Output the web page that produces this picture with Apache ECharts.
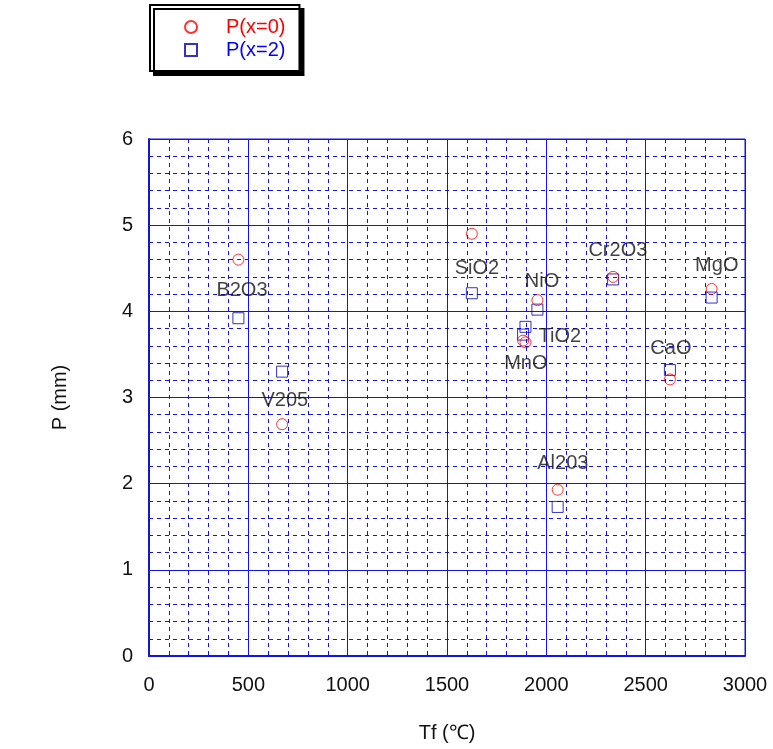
<!DOCTYPE html>
<html>
<head>
<meta charset="utf-8">
<script src="https://cdn.jsdelivr.net/npm/echarts@6/dist/echarts.min.js"></script>
<style>html,body{margin:0;padding:0;background:#fff;}#c{width:773px;height:749px;}</style>
</head>
<body>
<div id="c"></div>
<script>
// Data
var compounds = ['B2O3', 'V205', 'SiO2', 'NiO', 'TiO2', 'MnO', 'Cr2O3', 'MgO', 'CaO', 'Al203'];
var tf        = [450, 670, 1625, 1955, 1895, 1883, 2336, 2832, 2622, 2057];
var pX0       = [4.60, 2.69, 4.90, 4.13, 3.64, 3.66, 4.40, 4.26, 3.21, 1.93];
var pX2       = [3.92, 3.30, 4.21, 4.02, 3.82, 3.73, 4.37, 4.16, 3.32, 1.73];
// label anchor positions (data units)
var labelX    = [468, 684, 1651, 1978, 2068, 1897, 2360, 2858, 2627, 2083];
var labelY    = [4.24, 2.97, 4.50, 4.35, 3.71, 3.40, 4.71, 4.53, 3.57, 2.23];
var xTicks = [0, 500, 1000, 1500, 2000, 2500, 3000];
var yTicks = [0, 1, 2, 3, 4, 5, 6];
var seriesNames = ['P(x=0)', 'P(x=2)'];

var FONT = 'Liberation Sans, Arial, Helvetica, sans-serif';
var BLUE = '#1414e0';
var FS = 20;

function pairs(xs, ys) { return xs.map(function (x, i) { return [x, ys[i]]; }); }

var chart = echarts.init(document.getElementById('c'));
chart.setOption({
  animation: false,
  backgroundColor: '#fff',
  textStyle: { fontFamily: FONT },
  grid: { left: 149, right: 28, top: 139, bottom: 93, show: true, borderColor: BLUE, borderWidth: 1, backgroundColor: 'transparent' },
  legend: {
    left: 150, top: 5,
    orient: 'vertical',
    padding: [12, 14, 11, 34],
    itemGap: 3,
    itemWidth: 12, itemHeight: 12,
    backgroundColor: '#fff',
    borderColor: '#000', borderWidth: 2,
    shadowColor: '#000', shadowBlur: 0, shadowOffsetX: 4, shadowOffsetY: 4,
    textStyle: { fontSize: FS, fontFamily: FONT, padding: [0, 0, 0, 24] },
    data: [
      { name: seriesNames[0], icon: 'circle', textStyle: { color: '#ff0000' } },
      { name: seriesNames[1], icon: 'rect', textStyle: { color: '#0000ff' } }
    ]
  },
  xAxis: {
    type: 'value', min: xTicks[0], max: xTicks[xTicks.length - 1], interval: 500,
    name: 'Tf (\u2103)', nameLocation: 'middle', nameGap: 67,
    nameTextStyle: { fontSize: FS, color: '#111', fontFamily: FONT },
    axisLine: { lineStyle: { color: BLUE, width: 2 } },
    axisTick: { show: false },
    axisLabel: { fontSize: FS, color: '#111', margin: 19, fontFamily: FONT,
      formatter: function (v) { return String(v); } },
    splitLine: { show: true, lineStyle: { color: BLUE, width: 1 } },
    minorTick: { show: false, splitNumber: 5 },
    minorSplitLine: { show: true, lineStyle: { color: BLUE, width: 1, type: [4, 4] } }
  },
  yAxis: {
    type: 'value', min: yTicks[0], max: yTicks[yTicks.length - 1], interval: 1,
    name: 'P (mm)', nameLocation: 'middle', nameGap: 79,
    nameTextStyle: { fontSize: FS, color: '#111', fontFamily: FONT },
    axisLine: { lineStyle: { color: BLUE, width: 2 } },
    axisTick: { show: false },
    axisLabel: { fontSize: FS, color: '#111', margin: 16, fontFamily: FONT,
      formatter: function (v) { return String(v); } },
    splitLine: { show: true, lineStyle: { color: BLUE, width: 1 } },
    minorTick: { show: false, splitNumber: 5 },
    minorSplitLine: { show: true, lineStyle: { color: BLUE, width: 1, type: [4, 4] } }
  },
  series: [
    {
      name: seriesNames[0], type: 'scatter', symbol: 'circle', symbolSize: 11, z: 4,
      itemStyle: { color: 'rgba(255,255,255,0)', borderColor: '#ff0000', borderWidth: 1 },
      data: pairs(tf, pX0)
    },
    {
      name: seriesNames[1], type: 'scatter', symbol: 'rect', symbolSize: 11, z: 3,
      itemStyle: { color: 'rgba(255,255,255,0)', borderColor: '#0000b0', borderWidth: 1 },
      data: pairs(tf, pX2)
    },
    {
      name: 'labels', type: 'scatter', symbolSize: 0, silent: true, z: 5,
      label: { show: true, position: 'inside', fontSize: FS, color: '#111', fontFamily: FONT,
        formatter: function (p) { return compounds[p.dataIndex]; } },
      data: pairs(labelX, labelY)
    }
  ]
});
</script>
</body>
</html>
